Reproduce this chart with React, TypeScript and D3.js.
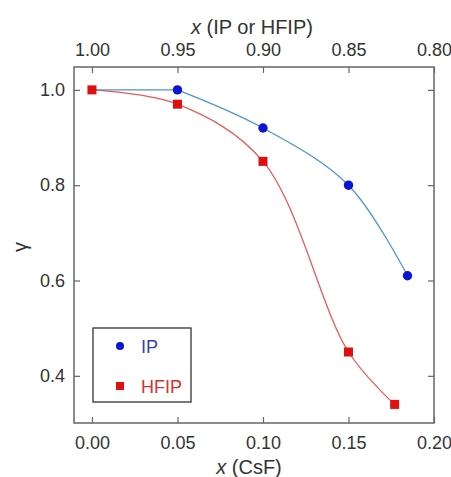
import { useRef, useEffect } from "react";
import * as d3 from "d3";

// x (CsF) values and gamma for each co-solvent
const ipX = [0, 0.05, 0.1, 0.15, 0.1845];
const ipY = [1.0, 1.0, 0.92, 0.8, 0.61];
const hfipX = [0, 0.05, 0.1, 0.15, 0.177];
const hfipY = [1.0, 0.97, 0.85, 0.45, 0.34];

const bottomTicks = [0, 0.05, 0.1, 0.15, 0.2];
const topTicks = [1.0, 0.95, 0.9, 0.85, 0.8];
const yTicks = [0.4, 0.6, 0.8, 1.0];

const App = () => {
  const svgRef = useRef<SVGSVGElement>(null);

  useEffect(() => {
    const width = 451;
    const height = 477;
    const left = 74;
    const right = 434;
    const top = 67;
    const bottom = 423;
    const font = "Liberation Sans, Arial, sans-serif";
    const textColor = "#333";
    const frameColor = "#666";

    const svg = d3.select(svgRef.current).attr("width", width).attr("height", height);
    svg.selectAll("*").remove();

    // Setting up scaling
    const xScale = d3.scaleLinear().domain([-0.0105, 0.2]).range([left, right]);
    const xTop = d3.scaleLinear().domain([1.0105, 0.8]).range([left, right]);
    const yScale = d3.scaleLinear().domain([0.301, 1.048]).range([bottom, top]);

    // Axes with inward ticks
    const tickLabel = (g: any) => {
      g.select(".domain").remove();
      g.selectAll("line").attr("stroke", frameColor).attr("stroke-width", 1.2);
      g.selectAll("text").attr("font-family", font).attr("font-size", 18).attr("fill", textColor);
    };
    svg
      .append("g")
      .attr("transform", `translate(0, ${bottom})`)
      .call(d3.axisBottom(xScale).tickValues(bottomTicks).tickFormat(d3.format(".2f")).tickSizeInner(-6).tickPadding(13))
      .call(tickLabel);
    svg
      .append("g")
      .attr("transform", `translate(0, ${top})`)
      .call(d3.axisTop(xTop).tickValues(topTicks).tickFormat(d3.format(".2f")).tickSizeInner(-6).tickPadding(11))
      .call(tickLabel);
    svg
      .append("g")
      .attr("transform", `translate(${left}, 0)`)
      .call(d3.axisLeft(yScale).tickValues(yTicks).tickFormat(d3.format(".1f")).tickSizeInner(-6).tickPadding(9))
      .call(tickLabel);
    svg
      .append("g")
      .attr("transform", `translate(${right}, 0)`)
      .call(d3.axisRight(yScale).tickValues(yTicks).tickFormat(() => "").tickSizeInner(-6))
      .call(tickLabel);

    // Frame
    svg
      .append("rect")
      .attr("x", left)
      .attr("y", top)
      .attr("width", right - left)
      .attr("height", bottom - top)
      .attr("fill", "none")
      .attr("stroke", frameColor)
      .attr("stroke-width", 1.5);

    // Axis titles
    const title = (x: number, y: number, rest: string) => {
      const t = svg
        .append("text")
        .attr("x", x)
        .attr("y", y)
        .attr("text-anchor", "middle")
        .attr("font-family", font)
        .attr("font-size", 20)
        .attr("fill", textColor);
      t.append("tspan").attr("font-style", "italic").text("x");
      t.append("tspan").text(rest);
    };
    title(252, 34, " (IP or HFIP)");
    title(249, 474, " (CsF)");
    svg
      .append("text")
      .attr("transform", `translate(27, ${(top + bottom) / 2 + 2}) rotate(-90)`)
      .attr("text-anchor", "middle")
      .attr("font-family", font)
      .attr("font-size", 20)
      .attr("fill", textColor)
      .text("γ");

    // Lines (index lists into the data arrays)
    const makeLine = (xs: number[], ys: number[], idx: number[], curve: d3.CurveFactory) =>
      d3
        .line<number>()
        .x((d) => xScale(xs[d]))
        .y((d) => yScale(ys[d]))
        .curve(curve)(idx);

    svg
      .append("path")
      .attr("d", makeLine(hfipX, hfipY, d3.range(hfipX.length), d3.curveCatmullRom.alpha(0.5)))
      .attr("fill", "none")
      .attr("stroke", "#e85a5a")
      .attr("stroke-width", 1.3);
    // IP: flat start, then smooth through the rest
    svg
      .append("path")
      .attr(
        "d",
        makeLine(ipX, ipY, [0, 1], d3.curveLinear)! +
          makeLine(ipX, ipY, d3.range(1, ipX.length), d3.curveCatmullRom.alpha(0.5))!
      )
      .attr("fill", "none")
      .attr("stroke", "#4d94cc")
      .attr("stroke-width", 1.3);

    // Markers
    svg
      .selectAll(".ip")
      .data(d3.range(1, ipX.length))
      .join("circle")
      .attr("cx", (i) => xScale(ipX[i]))
      .attr("cy", (i) => yScale(ipY[i]))
      .attr("r", 4.7)
      .attr("fill", "#0a14d2");
    svg
      .selectAll(".hfip")
      .data(d3.range(hfipX.length))
      .join("rect")
      .attr("x", (i) => xScale(hfipX[i]) - 4.5)
      .attr("y", (i) => yScale(hfipY[i]) - 4.5)
      .attr("width", 9)
      .attr("height", 9)
      .attr("fill", "#e01010");

    // Legend
    const legend = svg.append("g");
    legend
      .append("rect")
      .attr("x", 93)
      .attr("y", 328)
      .attr("width", 98)
      .attr("height", 74)
      .attr("fill", "white")
      .attr("stroke", "#333")
      .attr("stroke-width", 1.3);
    legend.append("circle").attr("cx", 120).attr("cy", 346).attr("r", 4).attr("fill", "#0a14d2");
    legend.append("rect").attr("x", 116).attr("y", 382).attr("width", 8).attr("height", 8).attr("fill", "#e01010");
    legend
      .append("text")
      .attr("x", 141)
      .attr("y", 353)
      .attr("font-family", font)
      .attr("font-size", 18)
      .attr("fill", "#3340c0")
      .text("IP");
    legend
      .append("text")
      .attr("x", 141)
      .attr("y", 393)
      .attr("font-family", font)
      .attr("font-size", 18)
      .attr("fill", "#d83030")
      .text("HFIP");
  }, []);

  return (
    <div style={{ position: "absolute", left: 0, top: 0 }}>
      <svg ref={svgRef}></svg>
    </div>
  );
};

export default App;
